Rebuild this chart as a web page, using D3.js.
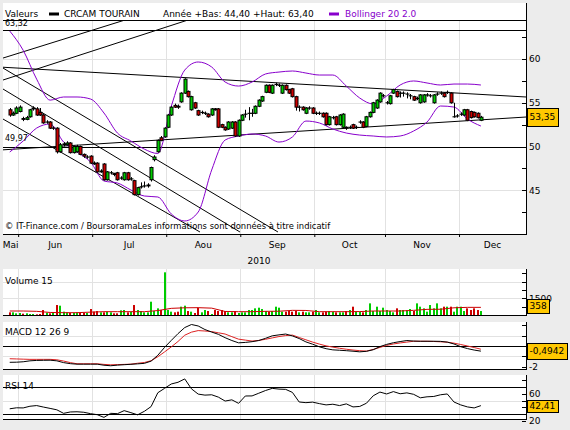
<!DOCTYPE html>
<html>
<head>
<meta charset="utf-8">
<script src="https://cdnjs.cloudflare.com/ajax/libs/d3/7.8.5/d3.min.js"></script>
<style>
  body { margin: 0; background: #ececec; }
  svg { display: block; }
  text { font-family: "DejaVu Sans", sans-serif; }
</style>
</head>
<body>
<svg id="chart" width="570" height="430"></svg>
<script>
// trading days, 27 May 2010 -> 9 Dec 2010 (141 sessions)
const firstDay = new Date(2010, 4, 27), lastDay = new Date(2010, 11, 9);
const monthLabels = ["Mai", "Jun", "Jul", "Aou", "Sep", "Oct", "Nov", "Dec"];

const opens = [
  54.2, 53.6, 53.8, 54.0, 53.2, 53.1, 53.4, 54.3, 54.3, 53.9,
  53.6, 52.8, 52.8, 52.1, 52.1, 49.4, 50.2, 50.2, 50.4, 49.3,
  49.4, 50.0, 49.1, 48.8, 48.9, 48.1, 48.1, 47.1, 48.0, 46.2,
  47.0, 46.9, 47.0, 46.4, 46.2, 47.0, 46.3, 46.1, 44.5, 45.4,
  45.5, 45.5, 46.2, 48.5, 49.4, 51.0, 51.1, 52.2, 53.6, 54.7,
  54.6, 55.1, 56.1, 56.3, 54.2, 55.0, 54.1, 53.9, 53.8, 53.7,
  53.6, 54.3, 54.3, 52.5, 52.2, 52.0, 52.1, 52.8, 51.2, 53.0,
  53.7, 53.8, 53.8, 53.8, 54.6, 55.2, 56.2, 57.0, 56.1, 57.1,
  57.0, 56.1, 57.0, 56.5, 56.6, 55.7, 54.5, 54.5, 53.8, 54.4,
  54.4, 53.8, 53.8, 53.8, 53.8, 52.5, 53.3, 53.4, 52.5, 52.2,
  52.2, 52.2, 52.5, 52.2, 52.8, 52.8, 52.3, 53.4, 53.9, 54.4,
  55.1, 55.8, 55.0, 54.9, 56.1, 56.3, 56.1, 56.1, 56.0, 55.8,
  55.7, 55.5, 55.0, 55.1, 55.9, 55.8, 55.0, 56.0, 56.1, 56.1,
  56.2, 56.1, 53.4, 53.5, 53.7, 53.6, 54.2, 54.0, 53.9, 53.8,
  53.0
];
const highs = [
  54.4, 54.0, 54.6, 54.7, 53.4, 53.5, 54.3, 54.6, 54.5, 54.4,
  53.7, 53.0, 52.9, 52.3, 52.2, 50.4, 50.5, 50.6, 50.5, 50.1,
  50.2, 50.1, 49.2, 49.0, 49.0, 48.3, 48.2, 47.4, 48.1, 47.2,
  47.2, 47.0, 47.1, 46.6, 47.1, 47.1, 46.5, 46.2, 45.4, 45.9,
  46.0, 45.8, 47.7, 49.0, 50.8, 51.2, 52.2, 53.7, 54.6, 54.9,
  54.8, 56.2, 57.8, 56.4, 55.8, 55.1, 54.2, 54.1, 54.0, 53.8,
  54.4, 54.4, 54.4, 52.6, 52.3, 52.9, 52.9, 52.9, 53.1, 53.7,
  54.2, 54.5, 54.3, 54.7, 55.4, 55.8, 57.1, 57.1, 57.1, 57.3,
  57.2, 57.1, 57.1, 56.6, 56.7, 55.8, 54.7, 54.6, 54.5, 54.6,
  54.5, 54.0, 54.0, 53.9, 53.9, 53.5, 53.5, 53.5, 53.7, 53.8,
  52.3, 52.4, 52.6, 52.4, 53.0, 52.9, 53.5, 54.0, 55.1, 55.4,
  56.2, 56.0, 55.2, 55.9, 56.6, 56.4, 56.3, 56.3, 56.2, 56.0,
  55.8, 55.7, 56.0, 56.0, 56.1, 56.0, 56.0, 56.2, 56.3, 56.2,
  56.4, 56.2, 55.0, 53.7, 53.9, 54.3, 54.3, 54.1, 54.0, 53.9,
  53.5
];
const lows = [
  53.4, 53.5, 53.7, 53.9, 52.9, 53.0, 53.3, 54.1, 53.5, 53.5,
  52.6, 52.6, 52.0, 51.9, 49.2, 49.3, 50.0, 50.1, 49.2, 49.2,
  49.3, 49.0, 48.7, 48.6, 48.0, 47.9, 47.0, 47.0, 46.1, 46.1,
  46.8, 46.6, 46.1, 46.2, 46.1, 46.1, 46.1, 44.4, 44.4, 45.2,
  45.3, 45.3, 46.0, 48.3, 49.3, 50.6, 51.0, 52.1, 53.5, 54.4,
  54.3, 55.0, 56.0, 55.6, 54.1, 54.3, 53.5, 53.7, 53.6, 53.3,
  53.5, 54.1, 52.1, 52.1, 51.8, 51.9, 52.0, 51.1, 51.1, 52.9,
  53.3, 53.0, 53.4, 53.7, 54.5, 55.1, 56.1, 56.1, 56.0, 56.9,
  56.8, 56.0, 56.4, 56.0, 55.6, 54.1, 54.0, 54.1, 53.7, 54.2,
  53.7, 53.6, 53.6, 53.3, 52.4, 52.4, 53.1, 52.4, 52.4, 52.1,
  51.9, 52.0, 52.0, 52.0, 52.6, 52.1, 52.2, 53.3, 53.8, 54.3,
  55.0, 55.6, 54.8, 54.8, 56.0, 55.6, 55.6, 55.7, 55.5, 55.4,
  55.2, 55.3, 54.9, 55.0, 55.7, 55.6, 54.9, 55.8, 55.9, 55.6,
  56.0, 54.9, 53.3, 53.3, 53.5, 53.5, 52.9, 53.2, 53.3, 53.2,
  52.9
];
const closes = [
  53.6, 53.8, 54.4, 54.5, 53.1, 53.3, 54.2, 54.4, 53.6, 53.6,
  52.7, 52.8, 52.1, 52.1, 49.4, 50.2, 50.3, 50.4, 49.3, 50.0,
  50.0, 49.1, 48.9, 48.8, 48.1, 48.0, 47.1, 47.2, 46.2, 47.1,
  47.0, 46.8, 46.2, 46.4, 47.0, 46.2, 46.3, 44.5, 45.3, 45.4,
  45.5, 45.6, 47.6, 48.8, 50.7, 50.7, 52.1, 53.6, 54.5, 54.5,
  54.5, 56.1, 57.7, 55.7, 55.7, 54.4, 53.6, 53.9, 53.8, 53.4,
  54.3, 54.2, 52.2, 52.2, 51.9, 52.8, 52.8, 51.2, 53.0, 53.6,
  53.7, 53.8, 53.8, 54.6, 55.3, 55.7, 57.0, 56.2, 57.0, 57.1,
  57.0, 57.0, 56.5, 56.1, 55.7, 54.5, 54.5, 54.2, 54.4, 54.4,
  53.8, 53.8, 53.8, 53.4, 52.5, 53.4, 53.3, 52.5, 53.6, 53.7,
  52.1, 52.2, 52.1, 52.2, 52.8, 52.2, 53.4, 53.9, 55.0, 55.3,
  56.1, 55.8, 55.0, 55.8, 56.5, 55.7, 56.1, 56.1, 56.0, 55.8,
  55.3, 55.5, 55.9, 55.9, 55.9, 55.8, 55.9, 56.0, 56.1, 55.7,
  56.2, 55.0, 53.4, 53.5, 53.7, 54.2, 53.0, 53.3, 53.4, 53.3,
  53.35
];
const volumes = [
  240, 240, 150, 180, 120, 150, 90, 90, 60, 90,
  450, 210, 150, 180, 900, 840, 300, 240, 180, 180,
  240, 180, 180, 180, 540, 300, 360, 240, 240, 300,
  240, 150, 150, 420, 450, 240, 300, 900, 450, 360,
  240, 240, 1200, 360, 600, 450, 3850, 450, 300, 240,
  300, 750, 840, 360, 300, 180, 660, 240, 450, 360,
  90, 450, 360, 450, 360, 240, 240, 360, 180, 240,
  240, 450, 450, 600, 660, 540, 360, 300, 360, 750,
  660, 300, 300, 360, 300, 360, 240, 300, 240, 240,
  300, 450, 240, 240, 300, 360, 300, 240, 240, 240,
  360, 450, 750, 300, 300, 240, 450, 1050, 360, 750,
  360, 660, 450, 360, 240, 600, 450, 450, 450, 540,
  360, 1050, 750, 600, 300, 900, 600, 1050, 600, 750,
  750, 750, 300, 750, 750, 360, 600, 450, 600, 450,
  358
];

// indicators, one value every 4 sessions
const bbStep = 4;
const bbUpper = [63.2, 61.0, 57.7, 55.3, 55.66, 55.66, 55.43, 53.83, 51.54, 50.63,
  49.7, 49.2, 54.6, 58.74, 59.66, 59.09, 57.37, 56.91, 57.37, 58.29,
  58.51, 58.63, 58.4, 58.17, 58.17, 56.91, 55.54, 54.86, 55.77, 57.03,
  57.49, 57.26, 57.03, 57.14, 57.14, 57.03];
const bbLower = [49.37, 50.63, 52.11, 52.57, 50.51, 49.37, 48.23, 46.06, 45.83, 45.03,
  44.34, 44.23, 42.29, 41.49, 42.51, 47.31, 50.74, 51.2, 51.43, 51.2,
  50.51, 51.09, 52.91, 52.69, 52.0, 51.54, 51.31, 51.2, 51.09, 51.2,
  51.77, 52.8, 54.63, 54.51, 53.14, 52.34];
const volMa = [360, 360, 330, 230, 210, 210, 260, 300, 300, 300,
  300, 400, 600, 650, 660, 620, 320, 300, 300, 330,
  340, 420, 410, 300, 300, 300, 310, 360, 360, 360,
  420, 510, 520, 650, 690, 690];

// one value every 2 sessions
const oscStep = 2;
const macd = [-1.56, -1.55, -1.51, -1.42, -1.38, -1.37, -1.36, -1.42, -1.59, -1.69,
  -1.74, -1.74, -1.74, -1.74, -1.84, -1.89, -1.83, -1.79, -1.75, -1.71,
  -1.66, -1.45, -0.89, -0.14, 0.53, 1.18, 1.76, 2.05, 1.91, 1.57,
  1.33, 1.11, 0.79, 0.52, 0.30, 0.34, 0.41, 0.52, 0.73, 0.97,
  1.06, 1.14, 0.96, 0.71, 0.39, 0.17, -0.08, -0.26, -0.37, -0.41,
  -0.45, -0.50, -0.56, -0.51, -0.36, -0.06, 0.15, 0.31, 0.42, 0.52,
  0.47, 0.45, 0.45, 0.45, 0.44, 0.37, 0.19, -0.07, -0.25, -0.39,
  -0.4942];
const macdSignal = [-1.22, -1.24, -1.26, -1.28, -1.28, -1.28, -1.28, -1.32, -1.44, -1.59,
  -1.70, -1.70, -1.70, -1.70, -1.76, -1.80, -1.78, -1.76, -1.74, -1.65,
  -1.58, -1.41, -1.03, -0.57, -0.09, 0.43, 1.03, 1.32, 1.47, 1.43,
  1.37, 1.26, 1.14, 0.89, 0.65, 0.56, 0.47, 0.53, 0.64, 0.77,
  0.90, 0.99, 1.04, 0.81, 0.59, 0.37, 0.18, 0.01, -0.11, -0.22,
  -0.31, -0.39, -0.45, -0.49, -0.33, -0.14, 0.06, 0.19, 0.29, 0.37,
  0.45, 0.45, 0.45, 0.43, 0.40, 0.36, 0.27, 0.14, 0.00, -0.15,
  -0.31];
const rsi = [37.7, 39.2, 39.0, 41.5, 42.5, 40.3, 38.3, 36.2, 31.0, 33.0,
  33.3, 32.6, 30.5, 29.0, 25.0, 31.0, 30.5, 35.0, 32.0, 28.8,
  34.0, 41.0, 61.5, 68.0, 74.5, 77.0, 82.0, 67.3, 59.5, 58.0,
  58.5, 55.0, 49.2, 51.0, 45.8, 56.7, 56.8, 60.8, 64.8, 68.0,
  66.9, 66.5, 62.0, 47.8, 46.8, 47.6, 45.4, 43.5, 44.5, 42.5,
  45.0, 40.5, 41.2, 46.0, 57.0, 62.5, 59.7, 63.2, 60.0, 61.3,
  59.2, 54.0, 55.5, 56.0, 58.5, 59.7, 47.8, 43.5, 40.5, 39.0,
  42.41];

// drawn lines: [session index, price] end points
const trendLines = [
  [[-2, 60.11], [34.25, 64.46]],
  [[-2, 57.6], [52.96, 64.46]],
  [[-2, 58.97], [79.7, 40.23]],
  [[-2, 56.57], [68.41, 40.23]],
  [[-2, 53.14], [56.53, 40.23]],
  [[-2, 59.06], [153.4, 55.66]],
  [[-2, 49.62], [153.4, 53.37]]
];
const levels = [63.32, 49.97];
const yearHigh = "63,40", yearLow = "44,40";

// ---------------------------------------------------------------
const days = d3.timeDay.range(firstDay, d3.timeDay.offset(lastDay, 1))
  .filter(d => d.getDay() !== 0 && d.getDay() !== 6);
const monthStarts = days.map((d, i) => i).filter(i => i > 0 && days[i].getMonth() !== days[i - 1].getMonth());

const svg = d3.select("#chart");
const L = 3, R = 526;
const green = "#00cc00", red = "#cc0000", purple = "#8800cc", grid = "#e2e2e2";
const comma = (v, n) => v.toFixed(n).replace(".", ",");

const x = d3.scaleLinear().domain([-2, 153.4]).range([L, R]);
const y = d3.scaleLinear().domain([40, 64.46]).range([234, 20]);
const yVol = d3.scaleLinear().domain([0, 4150]).range([315, 269]);
const yMacd = d3.scaleLinear().domain([-2.2, 2.29]).range([369, 322]);
const yRsi = d3.scaleLinear().domain([22.6, 87.8]).range([419, 375]);

const panels = [
  { id: "main", top: 3, gridTop: 20, bottom: 234 },
  { id: "vol", top: 269, gridTop: 269, bottom: 315 },
  { id: "macd", top: 322, gridTop: 322, bottom: 369 },
  { id: "rsi", top: 375, gridTop: 375, bottom: 419 }
];

const defs = svg.append("defs");
panels.forEach(p => {
  svg.append("rect").attr("x", L).attr("y", p.top).attr("width", R - L).attr("height", p.bottom - p.top).attr("fill", "#fff");
  defs.append("clipPath").attr("id", "clip-" + p.id).append("rect")
    .attr("x", L).attr("y", p.gridTop).attr("width", R - L).attr("height", p.bottom - p.gridTop);
  // month grid
  svg.append("g").selectAll("line").data(monthStarts).join("line")
    .attr("x1", i => Math.round(x(i - 0.5)) + 0.5).attr("x2", i => Math.round(x(i - 0.5)) + 0.5)
    .attr("y1", p.gridTop).attr("y2", p.bottom)
    .attr("stroke", grid).attr("shape-rendering", "crispEdges");
});

function hLine(yPos, color) {
  const yy = Math.round(yPos) + 0.5;
  svg.append("line").attr("x1", L).attr("x2", R).attr("y1", yy).attr("y2", yy)
    .attr("stroke", color).attr("shape-rendering", "crispEdges");
}

// ---- main price panel
[45, 55, 60].forEach(v => hLine(y(v), grid));
hLine(20, "#000");
levels.forEach(v => hLine(y(v), "#000"));

const gMain = svg.append("g").attr("clip-path", "url(#clip-main)");
gMain.selectAll(".trend").data(trendLines).join("line")
  .attr("x1", d => x(d[0][0])).attr("y1", d => y(d[0][1]))
  .attr("x2", d => x(d[1][0])).attr("y2", d => y(d[1][1]))
  .attr("stroke", "#000").attr("stroke-width", 1);

const bandLine = d3.line().x((d, k) => x(k * bbStep)).y(d => y(d)).curve(d3.curveMonotoneX);
[bbUpper, bbLower].forEach(b => gMain.append("path").attr("d", bandLine(b))
  .attr("fill", "none").attr("stroke", purple).attr("stroke-width", 1));

const idx = d3.range(closes.length);
gMain.append("g").selectAll("line").data(idx).join("line")
  .attr("x1", i => Math.round(x(i)) + 0.5).attr("x2", i => Math.round(x(i)) + 0.5)
  .attr("y1", i => y(highs[i])).attr("y2", i => y(lows[i]))
  .attr("stroke", "#000");
gMain.append("g").selectAll("rect").data(idx).join("rect")
  .attr("x", i => Math.round(x(i)) - 1)
  .attr("width", 3)
  .attr("y", i => y(Math.max(opens[i], closes[i])))
  .attr("height", i => Math.max(Math.abs(y(opens[i]) - y(closes[i])), 0.1))
  .attr("fill", i => closes[i] >= opens[i] ? green : red)
  .attr("stroke", "#000").attr("stroke-width", 1);

svg.append("text").attr("x", 5).attr("y", 26).attr("font-size", 8).text(comma(levels[0], 2));
svg.append("text").attr("x", 5).attr("y", 141).attr("font-size", 8).text(comma(levels[1], 2));
svg.append("text").attr("x", 5).attr("y", 229).attr("font-size", 8.4)
  .text("© IT-Finance.com / BoursoramaLes informations sont données à titre indicatif");

// legend
svg.append("text").attr("x", 5).attr("y", 17).attr("font-size", 9).text("Valeurs");
svg.append("rect").attr("x", 49).attr("y", 12.5).attr("width", 10).attr("height", 3).attr("fill", "#000");
svg.append("text").attr("x", 64).attr("y", 17).attr("font-size", 9).text("CRCAM TOURAIN");
svg.append("text").attr("x", 163).attr("y", 17).attr("font-size", 9)
  .text(`Année +Bas: ${yearLow} +Haut: ${yearHigh}`);
svg.append("rect").attr("x", 329).attr("y", 12.5).attr("width", 10).attr("height", 3).attr("fill", purple);
svg.append("text").attr("x", 345).attr("y", 17).attr("font-size", 9).attr("fill", purple).text("Bollinger 20 2.0");

// ---- volume panel
[1500, 3000].forEach(v => hLine(yVol(v), grid));
const gVol = svg.append("g").attr("clip-path", "url(#clip-vol)");
gVol.selectAll("rect").data(idx).join("rect")
  .attr("x", i => Math.round(x(i)) - 1).attr("width", 2)
  .attr("y", i => yVol(volumes[i])).attr("height", i => yVol(0) - yVol(volumes[i]))
  .attr("fill", i => closes[i] >= opens[i] ? green : red);
gVol.append("path")
  .attr("d", d3.line().x((d, k) => x(k * bbStep)).y(d => yVol(d))(volMa))
  .attr("fill", "none").attr("stroke", red).attr("stroke-width", 1);
svg.append("text").attr("x", 5).attr("y", 284).attr("font-size", 9).text("Volume 15");

// ---- MACD panel
[1, -1].forEach(v => hLine(yMacd(v), grid));
hLine(yMacd(0), "#000");
const gMacd = svg.append("g").attr("clip-path", "url(#clip-macd)");
const oscX = (d, k) => x(k * oscStep);
gMacd.append("path").attr("d", d3.line().x(oscX).y(d => yMacd(d))(macdSignal))
  .attr("fill", "none").attr("stroke", "#dd2222");
gMacd.append("path").attr("d", d3.line().x(oscX).y(d => yMacd(d))(macd))
  .attr("fill", "none").attr("stroke", "#000");
svg.append("text").attr("x", 5).attr("y", 335).attr("font-size", 9).text("MACD 12 26 9");

// ---- RSI panel
hLine(yRsi(50), grid);
hLine(yRsi(70), "#000");
hLine(yRsi(30), "#000");
const gRsi = svg.append("g").attr("clip-path", "url(#clip-rsi)");
gRsi.append("path").attr("d", d3.line().x(oscX).y(d => yRsi(d))(rsi))
  .attr("fill", "none").attr("stroke", "#000");
svg.append("text").attr("x", 5).attr("y", 389).attr("font-size", 9).text("RSI 14");

// ---- axes
panels.forEach(p => {
  svg.append("line").attr("x1", R + 0.5).attr("x2", R + 0.5).attr("y1", p.top).attr("y2", p.bottom + 1)
    .attr("stroke", "#000").attr("shape-rendering", "crispEdges");
  hLine(p.bottom, "#000");
});

function rightAxis(scale, ticks, labels, fmt) {
  const g = svg.append("g").attr("transform", `translate(${R},0)`)
    .call(d3.axisRight(scale).tickValues(ticks).tickSizeInner(-4).tickSizeOuter(0).tickPadding(3)
      .tickFormat(d => labels.includes(d) ? fmt(d) : ""));
  g.select(".domain").remove();
  g.selectAll("line").attr("shape-rendering", "crispEdges");
  g.selectAll("text").attr("font-family", "DejaVu Sans").attr("font-size", 9).attr("fill", "#000");
}
rightAxis(y, d3.range(42.5, 63, 2.5), [45, 50, 55, 60], d => d);
rightAxis(yVol, [750, 1500, 2250, 3000, 3750], [1500], d => d);
rightAxis(yMacd, [-2, -1, 0, 1, 2], [-2], d => d);
rightAxis(yRsi, [20, 30, 40, 50, 60, 70, 80], [20, 60], d => d);

const gx = svg.append("g").attr("transform", "translate(0,234)")
  .call(d3.axisBottom(x).tickValues(monthStarts.map(i => i - 0.5)).tickSize(3).tickFormat(""));
gx.select(".domain").remove();

const bounds = [L, ...monthStarts.map(i => x(i - 0.5)), R];
svg.append("g").selectAll("text").data(monthLabels).join("text")
  .attr("x", (d, k) => (bounds[k] + bounds[k + 1]) / 2).attr("y", 248)
  .attr("text-anchor", "middle").attr("font-size", 9).text(d => d);
svg.append("text").attr("x", 259).attr("y", 264).attr("text-anchor", "middle")
  .attr("font-size", 9).text(String(firstDay.getFullYear()));

// ---- last value boxes
function valueBox(yc, label, h, bottom) {
  const g = svg.append("g");
  const t = g.append("text").attr("x", R + 3.5).attr("font-size", 9).attr("dy", "0.35em").text(label);
  const w = t.node().getComputedTextLength() + 5;
  const top = Math.min(yc - h / 2, bottom - h - 2);
  t.attr("y", top + h / 2);
  g.insert("rect", "text").attr("x", R + 1.5).attr("y", Math.round(top) + 0.5).attr("width", Math.round(w)).attr("height", h)
    .attr("fill", "#ffc800").attr("stroke", "#000");
}
const last = closes.length - 1;
valueBox(y(closes[last]), comma(closes[last], 2), 18, 234);
valueBox(yVol(volumes[last]), String(volumes[last]), 14, 315);
valueBox(yMacd(macd[macd.length - 1]), comma(macd[macd.length - 1], 4), 16, 369);
valueBox(yRsi(rsi[rsi.length - 1]), comma(rsi[rsi.length - 1], 2), 12, 419);
</script>
</body>
</html>
